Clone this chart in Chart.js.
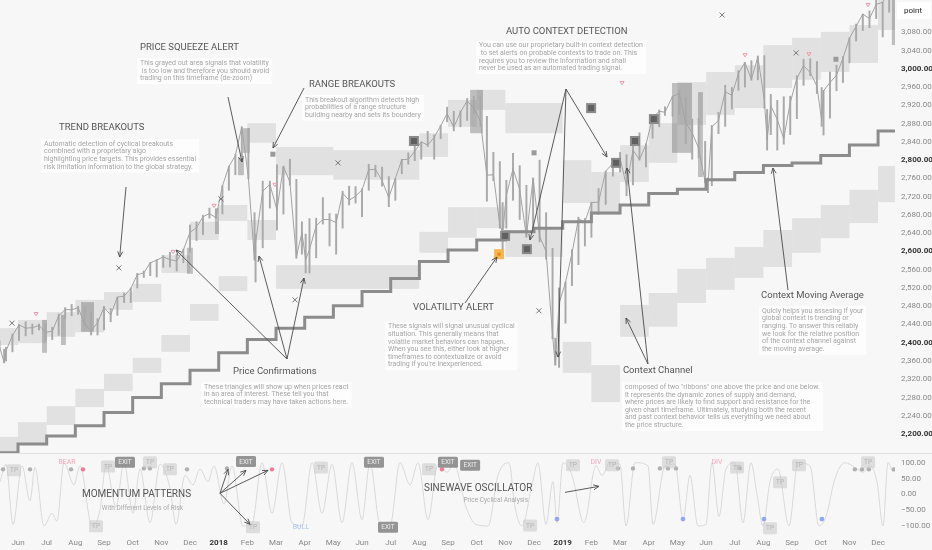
<!DOCTYPE html>
<html><head><meta charset="utf-8">
<script src="https://cdn.jsdelivr.net/npm/chart.js@4.4.1/dist/chart.umd.min.js"></script>
<style>
html,body{margin:0;padding:0;background:#f7f7f7;width:932px;height:550px;overflow:hidden;font-family:Roboto,sans-serif}
#main{position:absolute;left:0;top:0;width:932px;height:453px}
#osc{position:absolute;left:0;top:453px;width:932px;height:97px}
</style></head><body>
<div id="main"><canvas id="c1"></canvas></div>
<div id="osc"><canvas id="c2"></canvas></div>
<script>
// ---------- DATA ----------
const monthLabels = ['Jun','Jul','Aug','Sep','Oct','Nov','Dec','2018','Feb','Mar','Apr','May','Jun','Jul','Aug','Sep','Oct','Nov','Dec','2019','Feb','Mar','Apr','May','Jun','Jul','Aug','Sep','Oct','Nov','Dec'];
const priceTicks = [2200,2240,2280,2320,2360,2400,2440,2480,2520,2560,2600,2640,2680,2720,2760,2800,2840,2880,2920,2960,3000,3040,3080];
const oscTicks = [-100,-50,0,50,100];

const priceDates = ['2017-05-12','2017-05-17','2017-05-19','2017-05-26','2017-06-02','2017-06-09','2017-06-16','2017-06-23','2017-06-30','2017-07-07','2017-07-14','2017-07-21','2017-07-28','2017-08-04','2017-08-11','2017-08-18','2017-08-25','2017-09-01','2017-09-08','2017-09-15','2017-09-22','2017-09-29','2017-10-06','2017-10-13','2017-10-20','2017-10-27','2017-11-03','2017-11-10','2017-11-17','2017-11-24','2017-12-01','2017-12-08','2017-12-15','2017-12-22','2017-12-29',
'2018-01-05','2018-01-12','2018-01-19','2018-01-26','2018-02-02','2018-02-08','2018-02-09','2018-02-16','2018-02-23','2018-03-02','2018-03-09','2018-03-16','2018-03-23','2018-03-29','2018-04-02','2018-04-06','2018-04-13','2018-04-20','2018-04-27','2018-05-04','2018-05-11','2018-05-18','2018-05-25','2018-06-01','2018-06-08','2018-06-15','2018-06-22','2018-06-29','2018-07-06','2018-07-13','2018-07-20','2018-07-27','2018-08-03','2018-08-10','2018-08-17','2018-08-24','2018-08-31','2018-09-07','2018-09-14','2018-09-21','2018-09-28','2018-10-05','2018-10-12','2018-10-19','2018-10-26','2018-10-29','2018-11-02','2018-11-09','2018-11-16','2018-11-23','2018-11-30','2018-12-07','2018-12-14','2018-12-21','2018-12-24','2018-12-28',
'2019-01-04','2019-01-11','2019-01-18','2019-01-25','2019-02-01','2019-02-08','2019-02-15','2019-02-22','2019-03-01','2019-03-08','2019-03-15','2019-03-22','2019-03-29','2019-04-05','2019-04-12','2019-04-18','2019-04-26','2019-05-03','2019-05-10','2019-05-17','2019-05-24','2019-05-31','2019-06-03','2019-06-07','2019-06-14','2019-06-21','2019-06-28','2019-07-05','2019-07-12','2019-07-19','2019-07-26','2019-08-02','2019-08-05','2019-08-09','2019-08-16','2019-08-23','2019-08-30','2019-09-06','2019-09-13','2019-09-20','2019-09-27','2019-10-02','2019-10-04','2019-10-11','2019-10-18','2019-10-25','2019-11-01','2019-11-08','2019-11-15','2019-11-22','2019-11-29','2019-12-06','2019-12-13','2019-12-20'];
const priceClose = [2391,2357,2382,2416,2439,2432,2433,2438,2423,2425,2459,2473,2472,2477,2441,2426,2444,2477,2461,2500,2502,2519,2549,2553,2575,2581,2588,2582,2579,2603,2642,2652,2676,2683,2674,
2743,2786,2810,2873,2762,2581,2620,2732,2747,2691,2786,2752,2588,2641,2582,2604,2656,2670,2670,2663,2728,2712,2721,2735,2779,2780,2755,2718,2760,2801,2802,2819,2840,2833,2850,2875,2902,2872,2905,2930,2914,2885,2767,2768,2658,2641,2723,2781,2736,2633,2760,2633,2600,2417,2351,2486,
2532,2596,2671,2665,2707,2708,2776,2793,2804,2743,2822,2801,2834,2893,2907,2905,2940,2946,2881,2860,2826,2752,2744,2873,2887,2950,2942,2990,3014,2977,3026,2932,2844,2919,2889,2847,2926,2979,3007,2992,2962,2887,2952,2970,2986,3023,3067,3093,3120,3110,3141,3146,3169,3221];
const priceHigh = [2404,2386,2390,2419,2440,2446,2441,2441,2444,2434,2463,2477,2484,2480,2480,2468,2453,2480,2475,2500,2509,2520,2552,2557,2576,2582,2591,2598,2594,2605,2658,2665,2679,2695,2692,
2744,2787,2812,2873,2870,2685,2638,2754,2754,2790,2787,2802,2758,2665,2638,2672,2673,2718,2683,2682,2732,2743,2742,2737,2791,2789,2785,2764,2760,2802,2816,2848,2840,2863,2855,2876,2916,2907,2908,2935,2940,2940,2896,2817,2797,2707,2756,2815,2788,2745,2761,2800,2685,2607,2410,2520,
2533,2604,2675,2672,2708,2738,2776,2795,2817,2812,2830,2860,2836,2893,2910,2917,2940,2954,2938,2890,2892,2841,2761,2876,2905,2964,2959,2996,3014,3018,3028,3029,2911,2944,2931,2939,2940,2985,3021,3022,3016,2959,2953,2993,3008,3027,3068,3098,3120,3127,3154,3146,3182,3225];
const priceLow = [2385,2356,2360,2380,2405,2415,2419,2428,2405,2407,2416,2452,2459,2462,2437,2417,2417,2428,2446,2460,2488,2488,2520,2543,2547,2544,2565,2566,2557,2575,2598,2624,2637,2673,2672,
2682,2734,2768,2808,2759,2581,2533,2608,2695,2647,2682,2745,2585,2594,2553,2553,2586,2660,2612,2594,2651,2702,2706,2676,2734,2764,2743,2698,2712,2770,2791,2799,2802,2830,2802,2847,2884,2864,2873,2887,2902,2874,2710,2755,2651,2603,2651,2712,2670,2631,2649,2621,2583,2409,2351,2346,
2443,2525,2571,2612,2631,2681,2703,2765,2774,2722,2746,2800,2785,2848,2873,2898,2896,2900,2836,2802,2805,2750,2729,2744,2858,2874,2912,2953,2960,2975,2976,2914,2822,2856,2822,2835,2856,2891,2964,2985,2946,2874,2855,2892,2952,2970,3013,3061,3084,3090,3110,3070,3124,3167];

// Context moving average, one value per month from May 2017 (month 4) to Dec 2019 (month 35)
const cmaValues = [2159,2178,2196,2218,2247,2280,2310,2340,2378,2407,2432,2456,2481,2512,2541,2578,2603,2625,2643,2651,2665,2684,2702,2727,2736,2757,2773,2788,2794,2810,2833,2864];

// Context channel ribbons: [fromMonth, toMonth, low, high]  (month 5 = Jun 2017)
const upperRibbon = [[4,5,2395,2432],[5,6,2399,2450],[6,7,2413,2467],[7,8,2423,2494],[8,9,2472,2511],[9,10,2489,2529],[10,11,2553,2592],[11,12,2625,2665],[12,13,2667,2702],[13,14,2838,2881],[14,16,2767,2829],[16,19,2757,2822],[19,20,2807,2859],[20,21,2873,2932],[21,22,2910,2954],[22,24,2859,2925],[24,25,2706,2800],[25,26,2680,2774],[26,27,2752,2833],[27,28,2794,2881],[28,29,2877,2971],[29,30,2899,2993],[30,31,2914,3008],[31,32,2958,3052],[32,33,2976,3068],[33,34,2993,3081],[34,35,3013,3096],[35,36,3085,3160]];
const lowerRibbon = [[4,5,2159,2194],[5,6,2180,2226],[6,7,2220,2261],[7,8,2259,2299],[8,9,2294,2332],[9,10,2334,2367],[10,11,2380,2417],[11,12,2448,2485],[12,13,2513,2546],[13,14,2625,2669],[14,19,2518,2570],[19,20,2597,2643],[20,21,2630,2697],[21,22,2651,2697],[22,24,2588,2647],[24,25,2334,2402],[25,26,2270,2351],[26,27,2413,2483],[27,28,2435,2509],[28,29,2487,2562],[29,30,2516,2586],[30,31,2542,2610],[31,32,2566,2647],[32,33,2597,2673],[33,34,2629,2702],[34,35,2662,2735],[35,36,2708,2787]];
// Price squeeze (grayed) zones: [fromMonth, toMonth, low, high]
const squeezeBars = [[5.84,6.01,2378,2450],[6.50,6.67,2395,2461],[7.20,7.65,2424,2489],[10.89,11.10,2551,2608],[11.87,12.01,2638,2695],[12.67,12.88,2767,2805],[12.85,13.09,2816,2870],[20.77,21.22,2859,2954],[27.81,28.51,2816,2969],[28.72,28.89,2763,2949],[35.48,35.62,3052,3160]];
// Signals
const contextSquares = [[18.81,2842],[24.99,2914],[21.99,2634],[22.75,2605],[25.86,2794],[26.52,2842],[27.18,2890]];
const smallSquares = [[13.89,2813],[23.0,2816],[33.53,3021]];
const volatilityAlerts = [[21.78,2594]];
const trendBreaks = [[4.79,2443],[8.52,2564],[12.08,2715],[14.66,2494],[16.16,2794],[23.17,2470],[29.56,3118],[32.14,3035]];
const confirmTriangles = [[5.63,2463],[10.41,2599],[11.84,2700],[13.96,2746],[26.07,2969],[30.36,3030],[32.59,3032],[34.65,3140]];

// Sinewave oscillator turning points: month position, value
const oscT = [4.372,4.581,4.826,5.140,5.419,5.593,5.907,6.186,6.360,6.604,6.953,7.163,7.581,7.860,8.069,8.418,8.697,9.011,9.255,9.604,9.953,10.302,10.511,10.825,11.104,11.348,11.627,11.836,12.185,12.464,12.848,13.162,13.511,13.859,14.208,14.557,14.906,15.255,15.603,15.952,16.301,16.650,16.998,17.277,17.626,17.975,18.324,18.673,18.952,19.301,19.649,19.963,20.207,20.626,20.975,21.393,21.742,22.126,22.335,22.579,22.928,23.137,23.416,23.660,23.800,24.009,24.323,24.741,25.160,25.370,25.649,25.997,26.207,26.521,26.974,27.149,27.567,27.916,28.195,28.439,28.718,28.997,29.206,29.451,29.695,30.009,30.288,30.567,30.776,30.985,31.230,31.509,31.892,32.206,32.625,32.939,33.183,33.497,33.845,34.194,34.473,34.717,34.961,35.171,35.345,35.520];
const oscV = [40,95,-95,90,-20,85,-100,-60,-85,100,30,90,-100,-50,95,-40,100,-60,80,-90,95,20,-95,60,30,80,40,90,-30,90,-100,-95,100,-60,100,-90,-100,100,-60,95,-90,100,-80,100,-95,-100,100,30,100,-80,95,70,95,-40,-95,-100,60,100,-40,-100,30,100,-95,40,-90,100,60,-90,90,60,100,95,-100,100,90,-95,90,95,-80,60,-100,-95,100,-70,80,100,-90,100,0,-100,40,80,-100,100,90,-100,-70,50,100,85,70,90,40,-100,100,70];
const oscGrayDots = [[4.477,79],[5.419,79],[6.849,79],[9.39,82],[9.60,82],[10.895,79],[12.290,82],[25.928,82],[26.451,82],[27.39,82],[27.67,82],[27.95,82],[30.18,82],[34.19,79],[34.44,79],[34.68,79],[35.55,79]];
const oscPinkDots = [[7.267,79],[13.859,79],[19.789,79]];
const oscBlueDots = [[23.8,-78],[28.195,-78],[31.02,-78],[33.04,-78]];
const exitBadges = [[8.732,101],[12.953,104],[17.417,101],[19.998,101],[20.77,92],[17.906,-104]];
const tpBadges = [[4.86,76],[8.139,88],[9.604,101],[10.3,79],[7.721,-101],[13.197,-104],[15.57,85],[19.336,79],[24.358,92],[25.72,92],[27.707,101],[30.08,85],[31.58,38],[32.24,92],[34.65,101],[22.86,-98],[31.23,-107]];
const oscWords = [['BEAR',6.71,101,'#f4a7b3'],['DIV',25.16,101,'#f4a7b3'],['DIV',29.38,101,'#f4a7b3'],['BULL',14.87,-104,'#a9c4f5']];

// ---------- ANNOTATIONS (data coordinates) ----------
const notes = [
 {title:'TREND BREAKOUTS', tt:6.43, tp:2870.4, bt:5.907, bp:2835.4, body:['Automatic detection of cyclical breakouts','combined with a proprietary algo','highlighting price targets. This provides essential','risk limitation information to the global strategy.']},
 {title:'PRICE SQUEEZE ALERT', tt:9.255, tp:3045.7, bt:9.255, bp:3012.1, body:['This grayed out area signals that volatility',' is too low and therefore you should avoid','trading on this timeframe (de-zoom)']},
 {title:'RANGE BREAKOUTS', tt:15.15, tp:2964.6, bt:15.01, bp:2931.7, body:['This breakout algorithm detects high','probabilities of a range structure','building nearby and sets its boundery']},
 {title:'AUTO CONTEXT DETECTION', tt:22.02, tp:3080.7, bt:21.08, bp:3050.7, body:['You can use our proprietary built-in context detection',' to set alerts on probable contexts to trade on. This','requires you to review the information and shall','never be used as an automated trading signal.']},
 {title:'VOLATILITY ALERT', tt:18.78, tp:2476.1, bt:17.905, bp:2435.1, body:['These signals will signal unusual cyclical','situation. This generally means that','volatile market behaviors can happen.','When you see this, either look at higher','timeframes to contextualize or avoid',"trading if you're inexperienced."]},
 {title:'Price Confirmations', tt:12.50, tp:2335.9, bt:11.49, bp:2303, body:['These triangles will show up when prices react','in an area of interest. These tell you that','technical traders may have taken actions here.']},
 {title:'Context Channel', tt:26.10, tp:2338.1, bt:26.17, bp:2302.4, body:['composed of two "ribbons" one above the price and one below.','It represents the dynamic zones of supply and demand,','where prices are likely to find support and resistance for the','given chart timeframe. Ultimately, studying both the recent','and past context behavior tells us everything we need about','the price structure.']},
 {title:'Context Moving Average', tt:30.92, tp:2502.4, bt:30.95, bp:2469.5, body:['Quicly helps you assesing if your','global context is trending or','ranging. To answer this reliably','we look for the relative position','of the context channel against','the moving average.']}
];
const mainArrows = [
 [[8.767,2741.2],[8.547,2587.8]],
 [[12.325,2938.3],[12.813,2795.9]],
 [[14.976,2958],[13.894,2826.6]],
 [[24.114,2955.8],[25.544,2806.9]],[[24.114,2955.8],[22.858,2625.1]],[[24.114,2955.8],[23.835,2368.7]],
 [[20.591,2487],[21.707,2587.8]],
 [[14.383,2364.4],[10.511,2603.2]],[[14.383,2364.4],[13.406,2590]],[[14.383,2364.4],[14.976,2541.8]],
 [[26.974,2353.4],[26.207,2454.1]],[[26.974,2353.4],[26.242,2782.8]],
 [[31.857,2515.5],[31.334,2782.8]]
];
const oscArrows = [
 [[12.046,3.2],[12.325,79]],[[12.046,3.2],[12.953,75.8]],[[12.046,3.2],[13.72,75.8]],[[12.046,3.2],[13.092,-94.7]],
 [[24.079,6.3],[25.265,25.3]]
];
const oscNotes = [
 {text:'MOMENTUM PATTERNS', t:7.23, v:0, size:10, color:'#555', align:'left'},
 {text:'With Different Levels of Risk', t:10.755, v:-44, size:6.5, color:'#aaa', align:'right'},
 {text:'SINEWAVE OSCILLATOR', t:19.16, v:19, size:10, color:'#555', align:'left'},
 {text:'Price Cyclical Analysis', t:22.79, v:-19, size:6.5, color:'#aaa', align:'right'}
];

// ---------- HELPERS ----------
function T(s){const [y,m,d]=s.split('-').map(Number);const dim=new Date(y,m,0).getDate();return (y-2017)*12+(m-1)+((d||1)-1)/dim;}
const X_MIN = 4.372, X_MAX = 35.59;
const FONT = 'Roboto, "Noto Sans", sans-serif';
function arrow(ctx,x0,y0,x1,y1){
  ctx.beginPath();ctx.moveTo(x0,y0);ctx.lineTo(x1,y1);ctx.stroke();
  const a=Math.atan2(y1-y0,x1-x0),L=6,s=0.42;
  ctx.beginPath();
  ctx.moveTo(x1-L*Math.cos(a-s),y1-L*Math.sin(a-s));ctx.lineTo(x1,y1);
  ctx.lineTo(x1-L*Math.cos(a+s),y1-L*Math.sin(a+s));ctx.stroke();
}
function rr(ctx,x,y,w,h,r){ctx.beginPath();if(ctx.roundRect){ctx.roundRect(x,y,w,h,r);}else{ctx.rect(x,y,w,h);}ctx.fill();}

const zeroPad = s => { s.paddingTop=0; s.paddingBottom=0; s.paddingLeft=0; s.paddingRight=0; };

// ---------- MAIN CHART ----------
const mainDecor = {
  id:'mainDecor',
  beforeDatasetsDraw(chart){
    const {ctx, scales:{x,y}, chartArea:a} = chart;
    ctx.save();
    ctx.beginPath();ctx.rect(a.left,a.top,a.right-a.left,a.bottom-a.top);ctx.clip();
    ctx.fillStyle='rgba(0,0,0,0.085)';
    upperRibbon.concat(lowerRibbon).forEach(([t0,t1,lo,hi])=>{
      const X0=x.getPixelForValue(t0),X1=x.getPixelForValue(t1),Y0=y.getPixelForValue(hi),Y1=y.getPixelForValue(lo);
      ctx.fillRect(X0,Y0,X1-X0,Y1-Y0);
    });
    ctx.fillStyle='rgba(70,70,70,0.32)';
    squeezeBars.forEach(([t0,t1,lo,hi])=>{
      const X0=x.getPixelForValue(t0),X1=x.getPixelForValue(t1),Y0=y.getPixelForValue(hi),Y1=y.getPixelForValue(lo);
      ctx.fillRect(X0,Y0,X1-X0,Y1-Y0);
    });
    ctx.restore();
  },
  afterDatasetsDraw(chart){
    const {ctx, scales:{x,y}, chartArea:a} = chart;
    const P=(t,p)=>[x.getPixelForValue(t),y.getPixelForValue(p)];
    ctx.save();
    ctx.beginPath();ctx.rect(a.left,a.top,a.right-a.left,a.bottom-a.top);ctx.clip();
    ctx.strokeStyle='#777';ctx.lineWidth=1;
    trendBreaks.forEach(([t,p])=>{const [X,Y]=P(t,p);ctx.beginPath();ctx.moveTo(X-2.5,Y-2.5);ctx.lineTo(X+2.5,Y+2.5);ctx.moveTo(X+2.5,Y-2.5);ctx.lineTo(X-2.5,Y+2.5);ctx.stroke();});
    ctx.strokeStyle='#f19aa8';
    confirmTriangles.forEach(([t,p])=>{const [X,Y]=P(t,p);ctx.beginPath();ctx.moveTo(X-2,Y-1.5);ctx.lineTo(X+2,Y-1.5);ctx.lineTo(X,Y+1.8);ctx.closePath();ctx.stroke();});
    contextSquares.forEach(([t,p])=>{const [X,Y]=P(t,p);ctx.fillStyle='#8a8a8a';ctx.fillRect(X-5,Y-5,10,10);ctx.fillStyle='#606060';ctx.fillRect(X-3,Y-3,6,6);});
    ctx.fillStyle='#9a9a9a';
    smallSquares.forEach(([t,p])=>{const [X,Y]=P(t,p);ctx.fillRect(X-2.5,Y-2.5,5,5);});
    volatilityAlerts.forEach(([t,p])=>{const [X,Y]=P(t,p);ctx.fillStyle='#f7b650';ctx.fillRect(X-5,Y-5,10,10);ctx.fillStyle='#e48a1c';ctx.beginPath();ctx.arc(X,Y,1.8,0,Math.PI*2);ctx.fill();});
    ctx.strokeStyle='#4a4a4a';ctx.lineWidth=0.9;
    mainArrows.forEach(([f,t])=>{const [x0,y0]=P(...f),[x1,y1]=P(...t);arrow(ctx,x0,y0,x1,y1);});
    notes.forEach(n=>{
      const [bx,by]=P(n.bt,n.bp);
      ctx.font='7px '+FONT;
      const w=Math.max(...n.body.map(s=>ctx.measureText(s).width));
      ctx.fillStyle='rgba(253,253,253,0.92)';
      ctx.fillRect(bx-3,by-5,w+6,n.body.length*7.6+3);
      ctx.fillStyle='#a5a5a5';ctx.textBaseline='middle';ctx.textAlign='left';
      n.body.forEach((s,i)=>ctx.fillText(s,bx,by+i*7.6));
      const [tx,ty]=P(n.tt,n.tp);
      ctx.font='9.5px '+FONT;ctx.fillStyle='#555';
      ctx.fillText(n.title,tx,ty);
    });
    ctx.restore();
  },
  afterDraw(chart){
    const {ctx, chartArea:a} = chart;
    ctx.save();
    ctx.fillStyle='#ffffff';ctx.fillRect(a.right+2,2,34,17);
    ctx.fillStyle='#222';ctx.font='8px '+FONT;ctx.textBaseline='middle';ctx.textAlign='left';
    ctx.fillText('point',a.right+9,10.5);
    ctx.restore();
  }
};

new Chart(document.getElementById('c1'),{
  type:'line',
  data:{datasets:[
    {type:'bar',data:priceDates.map((d,i)=>({x:T(d),y:[priceLow[i],priceHigh[i]]})),backgroundColor:'#a9a9a9',barThickness:1.3,borderWidth:0,order:3},
    {data:priceDates.map((d,i)=>({x:T(d),y:priceClose[i]})),borderColor:'#a2a2a2',borderWidth:1,pointRadius:0,tension:0,order:2},
    {data:cmaValues.map((v,i)=>({x:4+i,y:v})).concat([{x:36,y:cmaValues[cmaValues.length-1]}]),borderColor:'#8c8c8c',borderWidth:3,pointRadius:0,stepped:true,order:1}
  ]},
  options:{
    responsive:true,maintainAspectRatio:false,animation:false,
    layout:{padding:0},
    plugins:{legend:{display:false},tooltip:{enabled:false}},
    scales:{
      x:{type:'linear',min:X_MIN,max:X_MAX,display:false,offset:false},
      y:{type:'linear',position:'right',min:2158.5,max:3150.8,
        afterBuildTicks:s=>{s.ticks=priceTicks.map(v=>({value:v}));},
        afterFit:s=>{s.width=37;zeroPad(s);},
        grid:{display:false,drawTicks:false},border:{display:false},
        ticks:{padding:6,
          font:c=>({family:FONT,size:8,weight:(c.tick&&c.tick.value%200===0)?'bold':'normal'}),
          color:c=>(c.tick&&c.tick.value%200===0)?'#333':'#888',
          callback:v=>v.toLocaleString('en-US',{minimumFractionDigits:2,maximumFractionDigits:2})}
      }
    }
  },
  plugins:[mainDecor]
});

// ---------- OSCILLATOR ----------
const oscDecor = {
  id:'oscDecor',
  afterDatasetsDraw(chart){
    const {ctx, scales:{x,y}, chartArea:a} = chart;
    const P=(t,v)=>[x.getPixelForValue(t),y.getPixelForValue(v)];
    ctx.save();
    ctx.strokeStyle='#e1e1e1';ctx.lineWidth=1;ctx.beginPath();ctx.moveTo(0,0.5);ctx.lineTo(chart.width,0.5);ctx.stroke();
    ctx.beginPath();ctx.rect(a.left,a.top,a.right-a.left,a.bottom-a.top);ctx.clip();
    const dot=(list,col,r)=>{ctx.fillStyle=col;list.forEach(([t,v])=>{const [X,Y]=P(t,v);ctx.beginPath();ctx.arc(X,Y,r,0,Math.PI*2);ctx.fill();});};
    dot(oscGrayDots,'#b0b0b0',2.2);dot(oscPinkDots,'#f07c93',2.2);dot(oscBlueDots,'#8fa9ee',2.4);
    tpBadges.forEach(([t,v])=>{const [X,Y]=P(t,v);ctx.fillStyle='rgba(200,200,200,0.55)';rr(ctx,X-7,Y-6,14,12,1.5);ctx.fillStyle='#b3b3b3';ctx.font='6.5px '+FONT;ctx.textAlign='center';ctx.textBaseline='middle';ctx.fillText('TP',X,Y+0.5);});
    exitBadges.forEach(([t,v])=>{const [X,Y]=P(t,v);ctx.fillStyle='rgba(130,130,130,0.85)';rr(ctx,X-10,Y-5.5,20,11,1.5);ctx.fillStyle='#eeeeee';ctx.font='6.5px '+FONT;ctx.textAlign='center';ctx.textBaseline='middle';ctx.fillText('EXIT',X,Y+0.5);});
    oscWords.forEach(([s,t,v,c])=>{const [X,Y]=P(t,v);ctx.fillStyle=c;ctx.font='7px '+FONT;ctx.textAlign='center';ctx.textBaseline='middle';ctx.fillText(s,X,Y);});
    ctx.strokeStyle='#4a4a4a';ctx.lineWidth=0.9;
    oscArrows.forEach(([f,t])=>{const [x0,y0]=P(...f),[x1,y1]=P(...t);arrow(ctx,x0,y0,x1,y1);});
    oscNotes.forEach(n=>{const [X,Y]=P(n.t,n.v);ctx.font=n.size+'px '+FONT;ctx.fillStyle=n.color;ctx.textAlign=n.align;ctx.textBaseline='middle';ctx.fillText(n.text,X,Y);});
    ctx.restore();
  }
};

new Chart(document.getElementById('c2'),{
  type:'line',
  data:{datasets:[{data:oscT.map((t,i)=>({x:t,y:oscV[i]})),borderColor:'#d9d9d9',borderWidth:1,pointRadius:0,cubicInterpolationMode:'monotone'}]},
  options:{
    responsive:true,maintainAspectRatio:false,animation:false,
    layout:{padding:0},
    plugins:{legend:{display:false},tooltip:{enabled:false}},
    scales:{
      x:{type:'linear',min:X_MIN,max:X_MAX,position:'bottom',
        afterBuildTicks:s=>{s.ticks=monthLabels.map((_,i)=>({value:5+i}));},
        afterFit:s=>{s.height=15;zeroPad(s);},
        grid:{display:false,drawTicks:false},border:{display:false},
        ticks:{autoSkip:false,maxRotation:0,minRotation:0,padding:3,
          callback:(v,i)=>monthLabels[i],
          font:c=>({family:FONT,size:8,weight:/^\d{4}$/.test(monthLabels[c.index]||'')?'bold':'normal'}),
          color:c=>/^\d{4}$/.test(monthLabels[c.index]||'')?'#333':'#888'}
      },
      y:{type:'linear',position:'right',min:-128.4,max:130.6,
        afterBuildTicks:s=>{s.ticks=oscTicks.map(v=>({value:v}));},
        afterFit:s=>{s.width=37;zeroPad(s);},
        grid:{display:false,drawTicks:false},border:{display:false},
        ticks:{padding:6,font:{family:FONT,size:8},color:'#888',
          callback:v=>(v<0?'\u2212':'')+Math.abs(v).toFixed(2)}
      }
    }
  },
  plugins:[oscDecor]
});
</script></body></html>
